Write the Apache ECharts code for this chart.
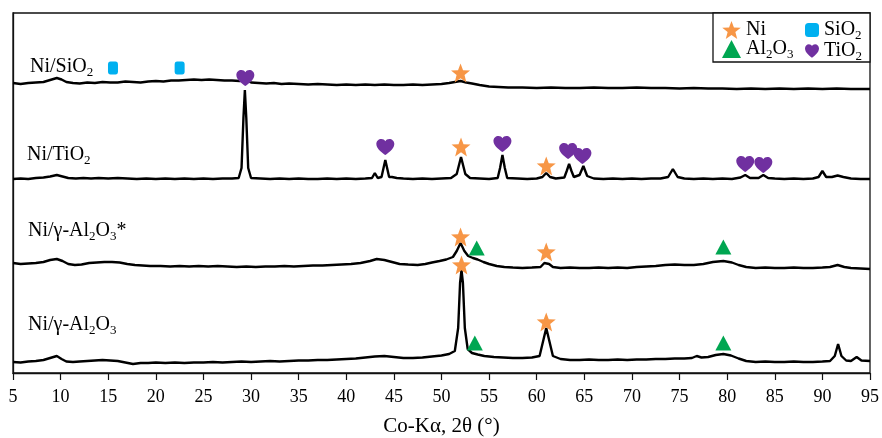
<!DOCTYPE html>
<html>
<head>
<meta charset="utf-8">
<script src="https://cdn.jsdelivr.net/npm/echarts@6/dist/echarts.min.js"></script>
<style>
  html, body { margin: 0; padding: 0; background: #fff; }
  #chart { width: 882px; height: 438px; }
</style>
</head>
<body>
<div id="chart"></div>
<script>
// XRD patterns, offset intensity (a.u.) vs 2theta
const xTicks = [5, 95, 5]

const siO2Trace = [[5,290],[5.8,289],[6.6,290],[7.4,290.5],[8.2,291],[8.9,293],[9.6,295],[10.1,293.5],[10.6,291],[11.3,290],[12,289.5],[12.8,290.5],[13.6,290],[14.4,291],[15.2,290.5],[16,290.5],[16.8,291.5],[17.6,291],[18.4,290.5],[19.2,291.5],[20,292],[20.8,291.5],[21.6,292.5],[22.4,292.5],[23.2,293],[24,293.5],[24.8,293],[25.6,293.5],[26.4,293],[27.2,292.5],[28,292.5],[28.8,292],[29.4,293],[30,290.5],[30.8,290],[31.6,289.5],[32.4,290],[33.2,289],[34,289.5],[35,289],[36,288.5],[37,289],[38,288.5],[39,288],[40,288.5],[41,288],[42,288.5],[43,288],[44,288.5],[45,288],[46,288],[47,288.5],[48,288],[49,288.5],[50,289],[50.8,290],[51.4,291],[52,292],[52.6,290.5],[53.2,289.5],[54,288],[55,286.5],[56,286],[57,285.5],[58.5,285.5],[60,285],[61.5,285.5],[63,285],[64.5,285],[66,285.5],[67.5,285],[69,285],[70.5,285.5],[72,285],[73.5,285],[75,284.5],[76.5,285],[78,284.5],[79.5,284.5],[81,284],[82.5,284.5],[84,284],[85.5,284.5],[87,284],[88.5,284.5],[90,284],[91.5,284.5],[93,284],[95,284]]

const tiO2Trace = [[5,194],[5.8,194.5],[6.6,194],[7.4,195],[8.2,195.5],[8.9,196.5],[9.6,198],[10.2,196.5],[10.8,195],[11.6,194.5],[12.4,195],[13.2,194.5],[14,195],[15,194.5],[16,195],[17,194.5],[18,194],[19,194.5],[20,194],[21,194.5],[22,194],[23,194.5],[24,194],[25,194.5],[26,194],[27,194.5],[28,194.5],[28.7,195],[29,205],[29.2,255],[29.35,283],[29.5,255],[29.7,205],[30,195],[31,194.5],[32,194],[33,194.5],[34,194],[35,194.5],[36,194],[37,194],[38,194.5],[39,194],[40,194.5],[41,194],[42,194.5],[42.7,195],[43,200],[43.3,195],[43.7,196],[44.1,213],[44.5,196],[44.8,196],[45,198],[45.3,195],[46,194.5],[47,194],[48,194.5],[49,194],[50,194.5],[51,195],[51.6,199],[52.05,216],[52.5,199],[53,195],[54,194.5],[55,194],[55.9,195],[56.15,205],[56.4,218],[56.65,205],[56.9,195],[58,194.5],[59,194],[60,194.5],[60.6,196],[61,200],[61.4,196],[62,194.5],[62.9,195.5],[63.15,202],[63.4,209],[63.65,202],[63.9,196],[64.5,198],[64.9,207],[65.3,197],[66,194.5],[67,194],[68,194.5],[69,194],[70,194.5],[71,194],[72,194.5],[73,194.5],[73.8,196],[74.3,204],[74.8,196],[75.5,194.5],[76.5,194],[77.5,194.5],[78.5,194],[79.5,194.5],[80.5,194],[81.4,195.5],[81.9,198],[82.4,195],[83.3,195],[83.8,198],[84.3,195],[85,194.5],[86,194],[87,194.5],[88,194],[89,194.5],[89.6,196],[90,202],[90.4,196],[91,196],[91.6,197.5],[92.2,196],[93,194.5],[94,194],[95,194]]

const al2O3StarTrace = [[5,110],[5.8,109],[6.6,109.5],[7.4,110],[8.2,111],[8.9,113],[9.6,114],[10.2,112],[10.8,109],[11.5,108],[12.2,108.5],[13,110],[13.8,110.5],[14.6,111],[15.4,111],[16.2,110.5],[17,109],[17.8,108],[18.6,107.5],[19.4,107],[20.5,107],[21.5,106.5],[22.5,107],[23.5,106.5],[24.5,107],[25.5,106.5],[26.5,107],[27.5,106.5],[28.5,106],[29.5,106.5],[30.5,106],[31.5,106.5],[32.5,106.5],[33.5,107],[34.5,106.5],[35.5,107],[36.5,107.5],[37.5,107.5],[38.5,108],[39.5,108.5],[40.5,109],[41.5,110],[42.5,112],[43.2,114],[44,113],[44.8,111],[45.6,109],[46.5,108.5],[47.5,108],[48.3,109],[49,110.5],[49.8,112],[50.5,113.5],[51.2,116],[51.6,122],[52,130],[52.4,122],[52.8,117],[53.3,115],[53.8,113.5],[54.4,111],[55,109],[55.8,107],[56.6,106],[57.5,105.5],[58.5,105],[59.5,105.5],[60.4,106],[60.8,110],[61,111],[61.3,109],[61.7,106],[62.5,105],[63.5,105.5],[64.5,105],[65.5,105],[66.5,105.5],[67.5,105],[68.5,105.5],[69.5,105],[70.5,106],[71.5,106.5],[72.5,107],[73.5,108],[74.5,108.5],[75.5,108],[76.5,108],[77.5,109],[78.5,111],[79.6,112],[80.5,110.5],[81.2,108],[82,106],[83,105],[84,105.5],[85,105],[86,105],[87,105.5],[88,105],[89,105],[90,105.5],[90.8,106],[91.6,108],[92.3,106],[93,105],[94,104.5],[95,104]]

const al2O3Trace = [[5,11],[5.8,10.5],[6.6,11.5],[7.4,12],[8.2,13],[8.9,15],[9.6,17],[10.1,14],[10.6,11.5],[11.3,11],[12,11.5],[12.8,12],[13.6,12.5],[14.4,13],[15.2,12.5],[16,12],[16.8,10.5],[17.6,9],[18.4,10],[19.2,10],[20,10.5],[21,10],[22,10.5],[23,10],[24,10.5],[25,10.5],[26,11],[27,10.5],[28,11],[29,11.5],[30,11],[31,11.5],[32,12],[33,11.5],[34,12],[35,12.5],[36,12.5],[37,13],[38,13],[39,13.5],[40,14],[41,14.5],[42,15.5],[43,16.5],[44,17],[45,16],[46,15],[47,15],[48,15.5],[49,16.5],[50,17.5],[50.8,19],[51.4,22],[51.75,45],[51.95,90],[52.1,103],[52.25,90],[52.45,45],[52.75,24],[53.2,20],[53.8,18.5],[54.5,17],[55.5,16],[56.5,15.5],[57.5,15],[58.5,15],[59.5,15.5],[60.3,17],[60.7,33],[61,45],[61.3,33],[61.7,17],[62.5,14],[63.5,13],[64.5,13],[65.5,13.5],[66.5,13],[67.5,13],[68.5,13.5],[69.5,13],[70.5,13.5],[71.5,13.5],[72.5,14],[73.5,14],[74.5,14.5],[75.5,14.5],[76.3,15],[76.8,17],[77.3,15.5],[78,16],[78.8,18],[79.6,19],[80.4,17.5],[81.2,14.5],[82,12],[83,11],[84,11.5],[85,11],[86,11],[87,11.5],[88,11],[89,11],[90,11.5],[90.8,12],[91.3,17],[91.65,29],[92,17],[92.5,12.5],[93,12],[93.6,16],[94.1,12.5],[95,12]]

// phase markers [2theta, height]
const niMarks = [[52,300],[52.05,226],[61,207],[52,136],[61,121],[52.1,108],[61,51]]
const al2O3Marks = [[53.7,125],[79.6,126],[53.5,30],[79.6,30]]
const siO2Marks = [[15.5,305],[22.5,305]]
const tiO2Marks = [[29.4,295],[44.1,226],[56.4,229],[63.3,222],[64.8,217],[81.9,209],[83.8,208]]

const STAR = 'path://M12,1 L14.9,8.6 L23,8.9 L16.6,14 L18.8,22.4 L12,17.6 L5.2,22.4 L7.4,14 L1,8.9 L9.1,8.6 Z'
const HEART = 'path://M12,21.5 C10,19.8 2,14.5 2,8.2 C2,4.8 4.6,2.3 7.6,2.3 C9.6,2.3 11.1,3.4 12,4.9 C12.9,3.4 14.4,2.3 16.4,2.3 C19.4,2.3 22,4.8 22,8.2 C22,14.5 14,19.8 12,21.5 Z'
const SERIF = 'Liberation Serif'

// subscript: top-aligned token pushed down with padding
const rich = {
  a: { fontFamily: SERIF, fontSize: 20, lineHeight: 20, verticalAlign: 'top', color: '#000' },
  s: { fontFamily: SERIF, fontSize: 13, lineHeight: 13, verticalAlign: 'top', padding: [9, 0, 0, 0], color: '#000' }
}
const legendNames = {
  'Ni': '{a|Ni}',
  'Al2O3': '{a|Al}{s|2}{a|O}{s|3}',
  'SiO2': '{a|SiO}{s|2}',
  'TiO2': '{a|TiO}{s|2}'
}

function trace (name, data) {
  return {
    name: name,
    type: 'line',
    data: data,
    symbol: 'none',
    smooth: false,
    z: 2,
    lineStyle: { color: '#000', width: 2.4 }
  }
}
function marks (name, data, symbol, size, color) {
  return {
    name: name,
    type: 'scatter',
    data: data,
    symbol: symbol,
    symbolSize: size,
    z: 4,
    itemStyle: { color: color, opacity: 1 }
  }
}
function sampleLabel (x, y, text) {
  return { type: 'text', left: x, top: y, z: 10, style: { text: text, rich: rich } }
}

const chart = echarts.init(document.getElementById('chart'))
chart.setOption({
  animation: false,
  backgroundColor: '#fff',
  grid: { left: 13, right: 12, top: 13, bottom: 65, outerBoundsMode: 'none', show: true, borderColor: '#111', borderWidth: 1.3 },
  xAxis: {
    type: 'value',
    min: xTicks[0],
    max: xTicks[1],
    interval: xTicks[2],
    name: 'Co-Kα, 2θ (°)',
    nameLocation: 'middle',
    nameGap: 43,
    nameTextStyle: { fontFamily: SERIF, fontSize: 21, color: '#000' },
    axisLine: { lineStyle: { color: '#111', width: 1.3 } },
    axisTick: { inside: false, length: 7, lineStyle: { color: '#111', width: 1.2 } },
    axisLabel: { fontFamily: SERIF, fontSize: 18, color: '#000', margin: 15 },
    splitLine: { show: false }
  },
  yAxis: {
    type: 'value',
    min: 0,
    max: 360,
    axisLine: { show: true, lineStyle: { color: '#111', width: 1.3 } },
    axisTick: { show: false },
    axisLabel: { show: false },
    splitLine: { show: false }
  },
  legend: [
    {
      orient: 'vertical',
      left: 717,
      top: 15,
      itemWidth: 19,
      itemHeight: 18,
      itemGap: -1,
      selectedMode: false,
      data: [{ name: 'Ni', icon: STAR }, { name: 'Al2O3', icon: 'triangle' }],
      formatter: (name) => legendNames[name],
      textStyle: { rich: rich }
    },
    {
      orient: 'vertical',
      left: 800,
      top: 15,
      itemWidth: 14,
      itemHeight: 14,
      itemGap: -1,
      selectedMode: false,
      data: [{ name: 'SiO2', icon: 'roundRect' }, { name: 'TiO2', icon: HEART }],
      formatter: (name) => legendNames[name],
      textStyle: { rich: rich }
    }
  ],
  graphic: [
    { type: 'rect', shape: { x: 713, y: 13, width: 157, height: 49 }, z: 0, style: { fill: '#fff', stroke: '#111', lineWidth: 1.3 } },
    sampleLabel(30, 57, '{a|Ni/SiO}{s|2}'),
    sampleLabel(27, 145, '{a|Ni/TiO}{s|2}'),
    sampleLabel(28, 221, '{a|Ni/γ-Al}{s|2}{a|O}{s|3}{a|*}'),
    sampleLabel(28, 315, '{a|Ni/γ-Al}{s|2}{a|O}{s|3}')
  ],
  series: [
    trace('Ni/SiO2', siO2Trace),
    trace('Ni/TiO2', tiO2Trace),
    trace('Ni/γ-Al2O3*', al2O3StarTrace),
    trace('Ni/γ-Al2O3', al2O3Trace),
    marks('Ni', niMarks, STAR, [19, 19], '#F79646'),
    marks('Al2O3', al2O3Marks, 'triangle', [16, 15], '#00A651'),
    marks('SiO2', siO2Marks, 'roundRect', [10, 13], '#00B0F0'),
    marks('TiO2', tiO2Marks, HEART, [18, 16], '#7030A0')
  ]
})
</script>
</body>
</html>
